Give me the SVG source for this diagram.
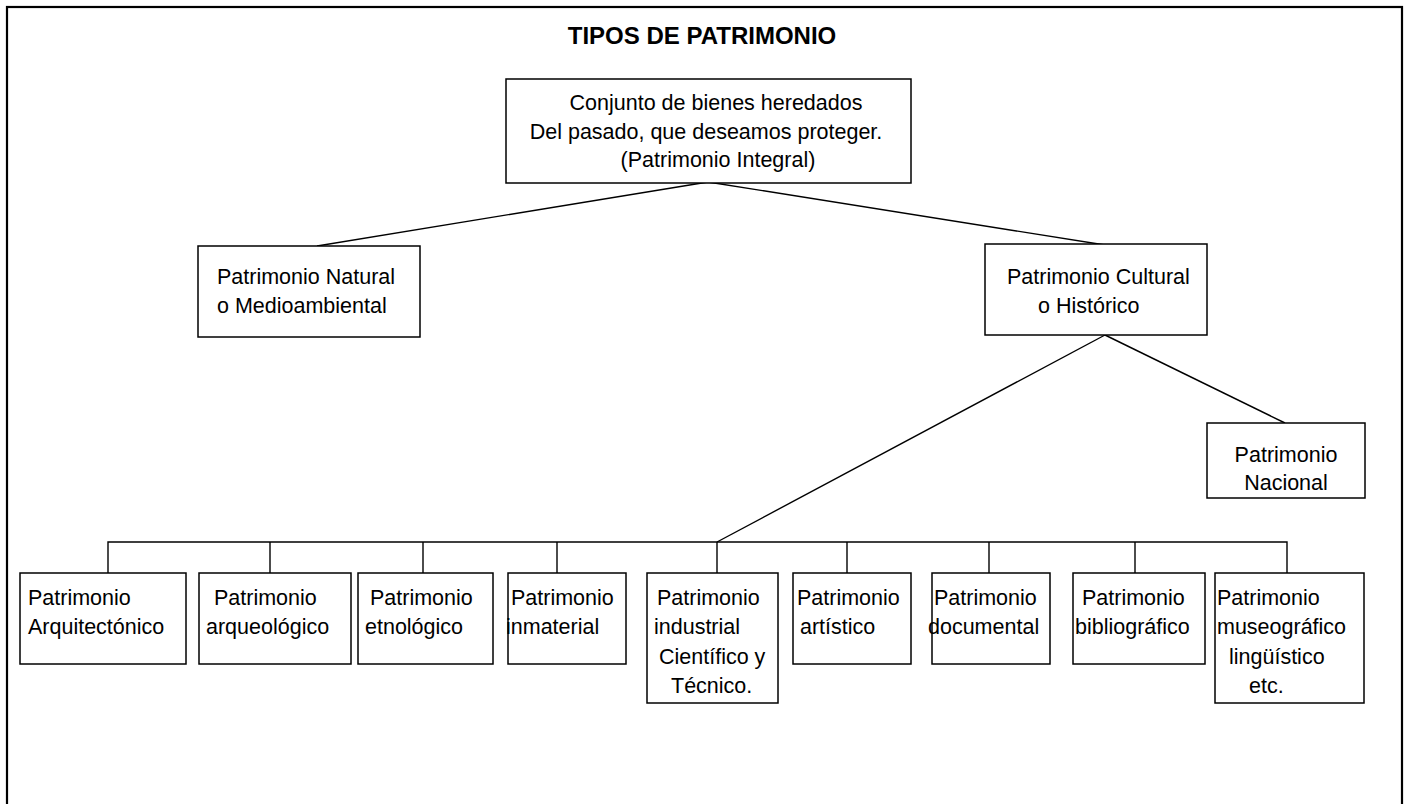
<svg xmlns="http://www.w3.org/2000/svg" width="1411" height="804" viewBox="0 0 1411 804">
<style>
.box{fill:#fff;stroke:#000;stroke-width:1.5}
.t{font-family:"Liberation Sans",Arial,sans-serif;font-size:21.5px;fill:#000}
.c{text-anchor:middle}
.title{font-family:"Liberation Sans",Arial,sans-serif;font-size:24px;font-weight:bold;text-anchor:middle;fill:#000}
.ln{stroke:#000;stroke-width:1.4;fill:none}
</style>
<rect x="0" y="0" width="1411" height="804" fill="#fff"/>
<rect x="7" y="7" width="1395" height="820" fill="none" stroke="#000" stroke-width="2.2"/>
<text class="title" x="702" y="44">TIPOS DE PATRIMONIO</text>
<g id="connectors">
<line class="ln" x1="708" y1="182" x2="317" y2="246"/>
<line class="ln" x1="708" y1="182" x2="1105" y2="245"/>
<line class="ln" x1="1105" y1="335" x2="1285" y2="423"/>
<line class="ln" x1="1105" y1="335" x2="717" y2="542"/>
<polyline class="ln" points="108,573 108,542 1287,542 1287,573"/>
<line class="ln" x1="270" y1="542" x2="270" y2="573"/>
<line class="ln" x1="423" y1="542" x2="423" y2="573"/>
<line class="ln" x1="557" y1="542" x2="557" y2="573"/>
<line class="ln" x1="717" y1="542" x2="717" y2="573"/>
<line class="ln" x1="847" y1="542" x2="847" y2="573"/>
<line class="ln" x1="989" y1="542" x2="989" y2="573"/>
<line class="ln" x1="1135" y1="542" x2="1135" y2="573"/>
</g>
<g id="n-integral">
<rect class="box" x="506" y="79" width="405" height="104"/>
<text class="t c" x="716" y="110">Conjunto de bienes heredados</text>
<text class="t c" x="706" y="139">Del pasado, que deseamos proteger.</text>
<text class="t c" x="718" y="167">(Patrimonio Integral)</text>
</g>
<g id="n-natural">
<rect class="box" x="198" y="246" width="222" height="91"/>
<text class="t" x="217" y="284">Patrimonio Natural</text>
<text class="t" x="217" y="313">o Medioambiental</text>
</g>
<g id="n-cultural">
<rect class="box" x="985" y="244" width="222" height="91"/>
<text class="t" x="1007" y="284">Patrimonio Cultural</text>
<text class="t" x="1038" y="313">o Histórico</text>
</g>
<g id="n-nacional">
<rect class="box" x="1207" y="423" width="158" height="75"/>
<text class="t c" x="1286" y="462">Patrimonio</text>
<text class="t c" x="1286" y="490">Nacional</text>
</g>
<g id="n-arquitectonico">
<rect class="box" x="20" y="573" width="166" height="91"/>
<text class="t" x="28" y="605">Patrimonio</text>
<text class="t" x="28" y="634">Arquitectónico</text>
</g>
<g id="n-arqueologico">
<rect class="box" x="199" y="573" width="152" height="91"/>
<text class="t" x="214" y="605">Patrimonio</text>
<text class="t" x="206" y="634">arqueológico</text>
</g>
<g id="n-etnologico">
<rect class="box" x="358" y="573" width="135" height="91"/>
<text class="t" x="370" y="605">Patrimonio</text>
<text class="t" x="365" y="634">etnológico</text>
</g>
<g id="n-inmaterial">
<rect class="box" x="508" y="573" width="118" height="91"/>
<text class="t" x="511" y="605">Patrimonio</text>
<text class="t" x="506" y="634">inmaterial</text>
</g>
<g id="n-industrial">
<rect class="box" x="647" y="573" width="131" height="130"/>
<text class="t" x="657" y="605">Patrimonio</text>
<text class="t" x="654" y="634">industrial</text>
<text class="t" x="659" y="664">Científico y</text>
<text class="t" x="671" y="693">Técnico.</text>
</g>
<g id="n-artistico">
<rect class="box" x="793" y="573" width="118" height="91"/>
<text class="t" x="797" y="605">Patrimonio</text>
<text class="t" x="800" y="634">artístico</text>
</g>
<g id="n-documental">
<rect class="box" x="932" y="573" width="118" height="91"/>
<text class="t" x="934" y="605">Patrimonio</text>
<text class="t" x="928" y="634">documental</text>
</g>
<g id="n-bibliografico">
<rect class="box" x="1073" y="573" width="132" height="91"/>
<text class="t" x="1082" y="605">Patrimonio</text>
<text class="t" x="1075" y="634">bibliográfico</text>
</g>
<g id="n-museografico">
<rect class="box" x="1215" y="573" width="149" height="130"/>
<text class="t" x="1217" y="605">Patrimonio</text>
<text class="t" x="1217" y="634">museográfico</text>
<text class="t" x="1229" y="664">lingüístico</text>
<text class="t" x="1249" y="693">etc.</text>
</g>
</svg>
